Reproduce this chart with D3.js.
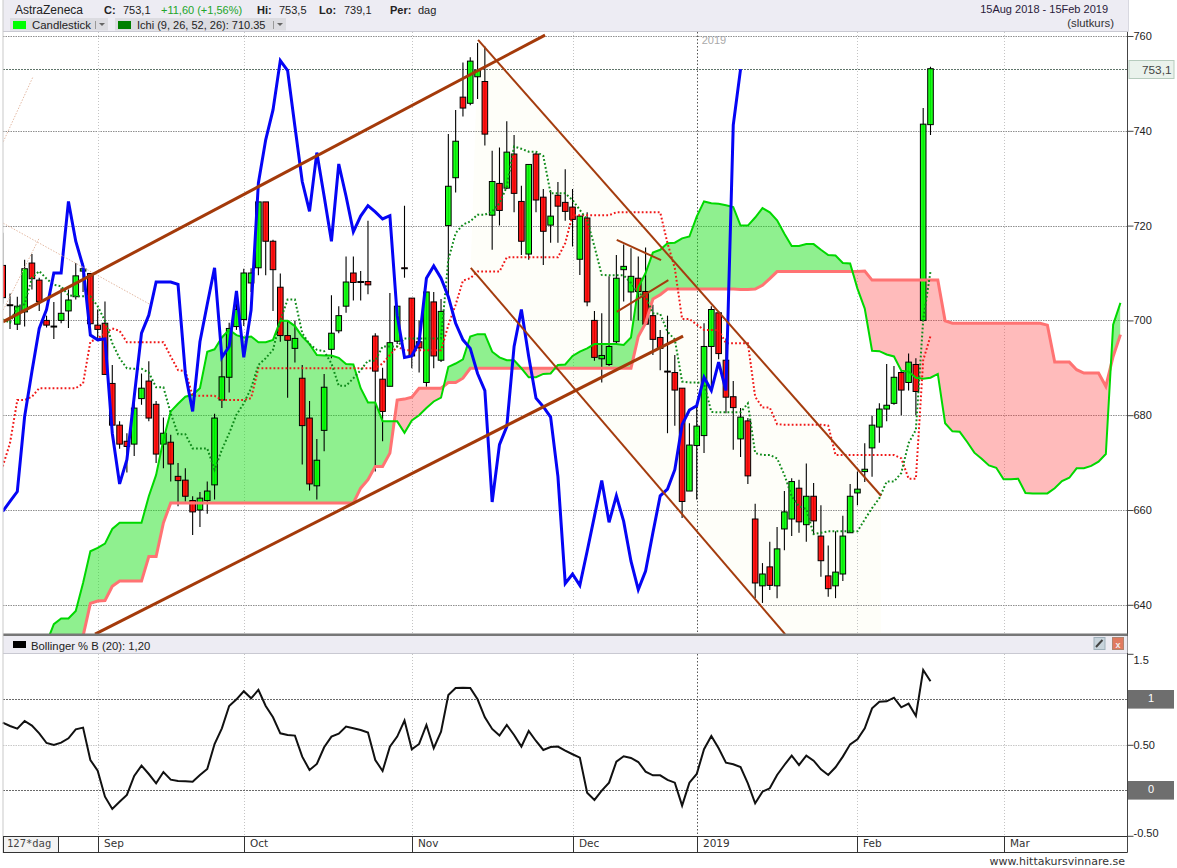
<!DOCTYPE html>
<html><head><meta charset="utf-8">
<script src="https://cdnjs.cloudflare.com/ajax/libs/d3/7.8.5/d3.min.js"></script>
<style>html,body{margin:0;padding:0;background:#fff;overflow:hidden}svg{display:block;font-family:"Liberation Sans",Arial,sans-serif}</style>
</head><body><svg id="c" width="1177" height="868"></svg>
<script>
// ---- price candles (one entry per trading day) ----
const opens=[711.6,703.3,699.2,701.8,712.1,708.5,700,698.8,700,702,
705,710.4,709.9,699,699.4,686.7,677.9,674.5,673.9,683.5,
687.2,682.3,673.9,674.3,667.1,666.3,662,660,662,665.3,
683.2,688,698.7,700.2,707.9,711.1,725,716.7,707,696.8,
694.1,687.8,679.4,665.1,676.8,693.9,697.8,703,710,708.2,
708.2,696.7,687.6,686.1,695.6,711.1,704.7,695.5,686.9,703.9,
691.6,720,730.1,747.1,745.8,751.4,750.4,722.2,728.9,727.9,
735.1,725.1,714,735.1,726,720.1,726.4,724.9,723.9,712.9,
721.6,700,691.9,690.7,695.5,710.7,706,708.9,706.1,701,
696.4,689.3,689,685.7,664,673.6,675.7,694.5,701.6,691.6,
683.9,675,678.8,658.1,644,648,644,656,658.1,664.6,
656.9,662.9,654.5,646.1,644,646.5,655.2,663.6,668.1,673.1,
677.5,681.3,682.5,689,686.9,690.7,700,741.3];
const closes=[704.8,703.1,703,710.9,708.8,704,699,698.6,701.5,704.3,
709.4,710.9,699.3,698.1,688.6,677.9,673.9,673.4,681.5,685.7,
679.4,671.8,676.2,669.7,666.2,662.9,659.6,662.5,664,679.4,
688.1,698.3,702.3,710,710,725,716.7,710.7,696.8,695.8,
696.2,677.8,665.5,670.5,685.9,697.3,701,708.1,708,708,
707.5,689.3,680.8,695.3,703,710.9,692.5,694.2,706,692.5,
701.9,728.3,737.8,744.8,754.7,752.8,739.3,729.3,723.2,735.5,
726.8,716.7,732.9,725.4,718.8,722,724.1,723,721.3,722,
703.9,692.2,692.6,694.5,708.9,711.4,709.3,706.1,699.2,696,
694.1,689.1,685.3,661.8,673.7,677.7,694.5,702.3,693,683.8,
681.6,679.6,667.2,644.6,646.5,644.1,651.8,659.6,666,657.5,
662.9,657.7,649.3,643.4,646.9,654.5,662.9,664.4,668.6,677.9,
681.3,682.1,688,685.3,691.2,685,741.4,753.1];
const highs=[718.5,705.7,705,712.8,714,709,701,703.9,706.8,706.5,
712.1,712,710,702.3,704,690.6,678.7,676.2,683,688.8,
691.4,683,679.5,675.9,669.9,668.8,662.9,663.8,666,680.3,
692,699.5,705,710.9,711,725,725,717,709.9,700,
699.9,690.6,683,675,688.7,705.3,703,713.5,713.5,710.4,
721,697.3,690,705.8,703,724.2,704.7,700,706,706,
704.5,739.3,744.4,754.4,755.5,758.5,757.8,735.8,736.5,742,
739.1,728.4,732.9,735.4,727.7,727.5,729.2,731.9,727.7,722,
722.8,702,701.5,709.3,713.8,716,715.2,713.5,715.4,703.3,
698,701,692.7,685.7,678.3,682,699.4,703,702,696.2,
687.2,681.5,679.4,661.3,648.8,653.3,656.4,664,666.7,666.4,
669.8,665.7,661,652.5,655.5,658.8,665.5,668.1,674.1,679.9,
682.5,690.8,690.4,689.5,693,692,744.8,753.5];
const lows=[703.5,698.2,698,698.7,706.5,702,698.5,696.1,699.4,698.4,
704.4,706,699,696,688.6,676.2,672.9,667.9,671.4,682.2,
678.7,669.9,668.8,666,660.8,661.8,654.7,656.4,659.2,662.2,
681.5,684.8,698,698.8,706,709.5,709.5,702,695.5,683.7,
691.1,669.6,664.1,662.2,672.4,692,697.3,701.6,704.2,704.2,
705.5,668.1,674.5,686.1,695,709,689.9,689,686,689.9,
691.2,704.5,727,743,745.4,746.7,736.9,714.9,720,727.7,
722.8,713.8,712.8,722.8,711.7,716.4,716.4,721,715.6,709.6,
703,691.5,686.9,690.4,695,704,700,700,699,692.7,
689.5,676.2,677.8,658.3,664,662.2,672,685.3,691.8,680.4,
672.7,671.2,665.5,641.4,640.4,643.1,641.4,651.5,654.5,655.2,
653.3,654.8,645.9,641.7,641.4,645,655.2,661,665.9,667,
674.2,678.7,682.2,680,685.2,680,699.8,739.1];
// ---- overlay series ----
const compareLine=[659.7,661.8,663.9,679.7,689.2,698.3,702.3,710,710,725.1,
716.7,711.4,696.9,695.9,696.1,676.2,665.5,670.6,683.9,697.3,
701.1,708.1,708.1,708.1,707.6,688.8,680.8,695.5,703.4,711.1,
692.2,694.5,706.2,692.2,702.2,729,738.1,744.4,754.8,752.7,
740.9,729.3,723,735.4,726.2,716.7,733,726.2,718.7,722,
724.2,722.9,721.4,722.1,701,692.2,692.5,695.5,708.9,711.5,
708.9,705,699.4,695.9,694.1,688.8,685.2,661.7,673.8,677.6,
694.5,702.3,692.4,683.6,681.8,679.6,667.1,644.5,646.5,644.1,
651.3,658.7,666.2,657.4,663,657.6,649.2,643.2,647.1,655.2,
663,664.4,668.5,678,681.1,682,688,685.2,691.2,685.2,
741.2,753];
const cloudStart=6;
const senkouA=[632,635.9,637.1,637.1,638.7,644.6,651.3,652,652.9,656,
657.3,657.3,657.3,657.3,662.9,667.4,674.8,680.8,682.4,683.9,
684.3,685.7,693.4,693.9,696.4,698,696.9,696.4,696.6,695.4,
695.4,695.9,699.9,699.9,698.8,696.6,695,692.7,692.6,692.6,
692.1,690.8,690.7,685.7,682.7,682.7,678.7,678.7,678.7,676.3,
678.9,680,681.5,682.9,683.7,690.2,690.9,691.8,696.6,697.1,
697.1,693.4,692.2,691.6,691.6,689.9,688,688,688.7,688.8,
690.6,690.7,692.5,693.4,694.1,695,695,695,695,694.8,
696.4,707,710,714.3,714.9,716.3,716.4,717.3,717.7,721.9,
725.1,724.7,724.6,724.3,723.9,720,720,721.7,723.7,722.8,
721.1,718.3,715.7,715.7,716.1,716.1,714.9,713.8,713.7,712.1,
712,706.7,702.5,693.6,693.5,692.8,692.4,689.4,689.2,687.9,
687.7,687.9,688.7,678.3,676.6,676.5,674.4,672.1,670.8,669.4,
668.9,666.5,666.5,666.6,663.6,663.5,663.5,663.5,664.6,666.1,
666.8,668.8,668.8,669.3,670.2,671.8,699.1,703.7];
const senkouB=[628,628,629,630,631,633.4,640.3,640.8,640.9,643.9,
645,645,645,645,650.2,650.2,657.3,661.5,661.5,661.5,
661.5,661.5,661.5,661.5,661.5,661.5,661.5,661.5,661.5,661.5,
661.5,661.5,661.5,661.5,661.5,661.5,661.5,661.5,661.5,661.5,
661.5,661.5,661.5,664.6,666.4,669.2,669.2,672,683.2,683.4,
683.8,685.7,685.7,685.7,685.7,686.9,686.9,687.8,689.9,689.9,
689.9,689.9,689.9,689.9,689.9,689.9,689.9,689.9,689.9,689.9,
689.9,689.9,689.9,689.9,689.9,689.9,689.9,689.9,689.9,689.9,
689.9,696.6,699.4,704.5,705.4,706.6,706.6,706.6,706.6,706.6,
706.6,706.6,706.6,706.6,706.6,706.5,706.5,706.6,707.4,708.8,
710.3,710.3,710.3,710.3,710.3,710.3,710.3,710.3,710.3,710.3,
710.3,710.3,710.4,708.5,708.5,708.5,708.5,708.5,708.5,708.5,
708.5,708.5,708.5,699.9,699.4,699.4,699.4,699.4,699.4,699.4,
699.4,699.4,699.4,699.4,699.4,699.4,699.4,699,691.2,691.2,
691.2,689.6,688.9,688.9,688.9,686.1,692.4,697];
const tenkan=[700.2,699.5,703,703.4,709,710.4,708.8,707.5,707.2,705.3,
705.1,705.1,705.1,703,699.9,695.2,692,689.9,689.8,689.8,
689,685.9,685.9,680.4,676,676,673,673,673,668.5,
672.7,676.2,680.1,682.5,685.7,690.6,692,693.8,700,704.4,
704.4,697.3,695,693.8,693.5,690.9,686.2,686.2,687.8,689.5,
691.5,691.5,694.5,694.5,694.5,696.2,696.2,696.2,696.2,696.2,
696.2,712.8,718.4,720.2,720.9,722.3,722.3,723,724.7,728.2,
736.7,736.2,735.6,735.6,734.7,726.8,726.8,726.8,725.4,723.3,
721.2,715.6,709.6,709.5,709.5,709.5,707.9,705.7,705,701.5,
701.4,697.6,696,687.1,686.9,686.9,686.7,680.7,680.6,680.6,
680.6,680.6,682.5,672,671.6,671.6,670.9,667.4,662.9,660.8,
660.2,654.9,655.2,655.5,655.5,655.5,655.5,655.5,658,660.4,
662.5,666,666,667.8,674.1,676.9,700.1,710.35];
const kijun=[669.2,674.1,683.2,683.2,683.9,685.7,685.7,685.7,685.7,685.7,
685.7,686.7,695.5,696.2,697.3,698.3,697.8,695.4,695.4,695.4,
695.4,695.4,695.4,692.4,689.5,689.3,684.1,684.1,684.1,684.1,
683.2,683.2,683.2,683.2,683.6,689.9,689.9,689.9,689.9,689.9,
689.9,689.9,689.9,689.9,689.9,689.9,689.9,689.9,689.9,689.9,
689.9,689.9,690.9,692.7,694.5,693.7,693.7,693.7,693.7,693.7,
693.7,699,703.3,708.4,708.9,710.3,710.3,710.3,710.3,713.3,
713.3,713.3,713.3,713.3,713.3,713.3,713.3,716.3,722.2,722.2,
722.2,722.2,722.2,722.2,722.8,722.8,722.8,722.8,722.8,722.8,
722.8,716.3,711,700.3,700.3,699.1,698,698,698,695.2,
695.2,695.2,695.2,683.9,681.6,681.6,678.1,678,678,678,
678,678,678,677.8,671.6,671.6,671.6,671.6,671.6,671.6,
671.6,671.6,671.6,670.9,666.6,666.6,691.6,696.7];
const percentB=[0.744,0.707,0.678,0.762,0.711,0.626,0.52,0.498,0.524,0.571,
0.67,0.689,0.333,0.216,-0.07,-0.205,-0.125,-0.051,0.158,0.271,
0.179,0.077,0.201,0.117,0.103,0.099,0.095,0.168,0.234,0.509,
0.681,0.927,1.0,1.088,1.011,1.103,0.927,0.802,0.626,0.608,
0.601,0.37,0.223,0.289,0.473,0.59,0.623,0.7,0.681,0.663,
0.634,0.333,0.212,0.48,0.59,0.766,0.451,0.509,0.718,0.462,
0.645,1.048,1.125,1.128,1.125,1.0,0.802,0.674,0.601,0.718,
0.608,0.48,0.652,0.542,0.443,0.476,0.48,0.436,0.396,0.359,
-0.026,-0.106,-0.004,0.084,0.315,0.374,0.355,0.311,0.205,0.165,
0.165,0.114,0.084,-0.168,0.084,0.179,0.451,0.597,0.462,0.304,
0.286,0.256,0.077,-0.143,-0.015,0.022,0.168,0.278,0.381,0.278,
0.381,0.326,0.231,0.168,0.253,0.37,0.505,0.56,0.681,0.901,
0.974,0.978,1.018,0.912,0.952,0.817,1.322,1.198];
// ---- hand-drawn trend lines: [day0, price0, day1, price1]
const thickTrends=[[0.04,699.7,74.24,760.2],[12.64,633.8,93.13,696.7]];
const thinTrends=[[65.07,759.2,120.23,663],[64.07,711.1,107.1,633.8],[84.05,717,90.12,712.7],[84.05,701.8,91.12,708.5]];
const fanTrends=[[0.08,720.5,20.03,703.5],[0.08,737.7,4.15,751.4],[0.08,702.2,5.01,717.4]];
const channelShade=[[65.07,759.2],[120.23,663],[120.23,633.5],[107.1,633.8],[64.07,711.1]];
// ---- ticks and labels ----
const priceTicks=[640,660,680,700,720,740,760];
const pbTicks=[1.5,0.5,-0.5];
const pbTickLabels=["1.5","0.50","-0.50"];
const monthDays=[13,33,56,78,95,117,137];
const monthLabels=["Sep","Oct","Nov","Dec","2019","Feb","Mar"];
const lastClose=753.1;

const svg=d3.select("#c");
const x=d3.scaleLinear().domain([0,127]).range([2.7,930.5]);
const y=d3.scaleLinear().domain([640,760]).range([604.8,36]);
const pb=d3.scaleLinear().domain([0,1]).range([790.3,699.3]);
const L=3,R=1127.5,T=32,B=634,PT=654,PB=836.5;

const defs=svg.append("defs");
defs.append("clipPath").attr("id","pane").append("rect").attr("x",L).attr("y",T).attr("width",R-L).attr("height",B-T);
const ln=(yS)=>d3.line().x((d,i)=>x(i)).y(d=>yS(d));
const cloudX=(d,i)=>x(i+cloudStart);
defs.append("clipPath").attr("id","aboveB").append("path").attr("d",d3.area().x(cloudX).y0(0).y1(d=>y(d))(senkouB));
defs.append("clipPath").attr("id","belowB").append("path").attr("d",d3.area().x(cloudX).y0(868).y1(d=>y(d))(senkouB));

// header bar
svg.append("rect").attr("x",L).attr("y",0).attr("width",R-L+1).attr("height",31).attr("fill","#edecf3");
svg.append("line").attr("x1",L).attr("x2",R+1).attr("y1",31.5).attr("y2",31.5).attr("stroke","#c9c9d2");
svg.append("line").attr("x1",R+1).attr("x2",R+1).attr("y1",0).attr("y2",31).attr("stroke","#d8d8e0");

// pane grid
const main=svg.append("g").attr("clip-path","url(#pane)");
main.append("path").attr("d",d3.line().x(d=>x(d[0])).y(d=>y(d[1])).curve(d3.curveLinearClosed)(channelShade)).attr("fill","#fefef9");
main.selectAll(".gh").data(priceTicks).join("line").attr("x1",L).attr("x2",R)
 .attr("y1",d=>Math.round(y(d))+.5).attr("y2",d=>Math.round(y(d))+.5)
 .attr("stroke","#8f8f8f").attr("stroke-dasharray","1.5 1");
main.selectAll(".gv").data(monthDays).join("line")
 .attr("x1",d=>Math.round(x(d))+.5).attr("x2",d=>Math.round(x(d))+.5).attr("y1",T).attr("y2",B)
 .attr("stroke",(d,i)=>monthLabels[i]==="2019"?"#555":"#c4c4c4").attr("stroke-dasharray",(d,i)=>monthLabels[i]==="2019"?"1.5 2":"1 2");
main.append("line").attr("x1",L).attr("x2",R).attr("y1",Math.round(y(lastClose))+.5).attr("y2",Math.round(y(lastClose))+.5)
 .attr("stroke","#5f7469").attr("stroke-dasharray","2 1");
main.append("text").attr("x",x(95)+5).attr("y",44).attr("font-size",11).attr("fill","#a9a9a9").text("2019");

// cloud fill
const cloud=d3.area().x(cloudX).y0((d,i)=>y(senkouB[i])).y1(d=>y(d));
main.append("path").attr("d",cloud(senkouA)).attr("clip-path","url(#aboveB)").attr("fill","#10e010").attr("fill-opacity",.47);
main.append("path").attr("d",cloud(senkouA)).attr("clip-path","url(#belowB)").attr("fill","#ff3030").attr("fill-opacity",.33);

// candles
const days=d3.range(opens.length);
const bodyW=5.6;
const cg=main.append("g");
cg.selectAll(".w").data(days).join("line")
 .attr("x1",d=>x(d)).attr("x2",d=>x(d)).attr("y1",d=>y(highs[d])).attr("y2",d=>y(lows[d]))
 .attr("stroke","#000").attr("stroke-width",1.1);
cg.selectAll(".b").data(days).join("rect")
 .attr("x",d=>x(d)-bodyW/2).attr("width",bodyW)
 .attr("y",d=>y(Math.max(opens[d],closes[d])))
 .attr("height",d=>Math.abs(y(opens[d])-y(closes[d])))
 .attr("fill",d=>closes[d]>=opens[d]?"#00ff00":"#ff0000").attr("fill-opacity",.9).attr("stroke","#000").attr("stroke-width",1);

// cloud edges
main.append("path").attr("d",d3.line().x(cloudX).y(d=>y(d))(senkouB)).attr("fill","none").attr("stroke","#ff7373").attr("stroke-width",3);
main.append("path").attr("d",d3.line().x(cloudX).y(d=>y(d))(senkouA)).attr("fill","none").attr("stroke","#00d800").attr("stroke-width",2);
// dotted
main.append("path").attr("d",ln(y)(kijun)).attr("fill","none").attr("stroke","#f01818").attr("stroke-width",2).attr("stroke-dasharray","1.8 2.2");
main.append("path").attr("d",ln(y)(tenkan)).attr("fill","none").attr("stroke","#0f8a1a").attr("stroke-width",2).attr("stroke-dasharray","1.8 2.2");
// blue
main.append("path").attr("d",ln(y)(compareLine)).attr("fill","none").attr("stroke","#0505f5").attr("stroke-width",3);
// trend lines
const tl=(sel,data,w,col,dash)=>sel.selectAll(null).data(data).join("line")
 .attr("x1",d=>x(d[0])).attr("y1",d=>y(d[1])).attr("x2",d=>x(d[2])).attr("y2",d=>y(d[3]))
 .attr("stroke",col).attr("stroke-width",w).attr("stroke-dasharray",dash);
tl(main,fanTrends,1,"#e3b9a3","1.5 1.5");
tl(main,thinTrends,2,"#a43c0e",null);
tl(main,thickTrends,3,"#a43a0a",null);

// price axis
const ax=svg.append("g").attr("transform",`translate(${R},0)`).call(d3.axisRight(y).tickValues(priceTicks).tickSize(6).tickPadding(0).tickSizeOuter(0));
ax.select(".domain").remove();
ax.selectAll("text").attr("font-size",11).attr("font-family","'Liberation Sans'").attr("fill","#222");
ax.selectAll("line").attr("stroke","#444");
svg.append("line").attr("x1",R).attr("x2",R).attr("y1",32).attr("y2",653).attr("stroke","#444");
// last close tag
svg.append("rect").attr("x",1129).attr("y",60.5).attr("width",45).attr("height",18).attr("fill","#eaf2ec").attr("stroke","#b6cbbd");
svg.append("text").attr("x",1171.5).attr("y",73.5).attr("text-anchor","end").attr("font-size",11.8).attr("fill","#444").text("753,1");

// header text
const hdr=[[15,14,"AstraZeneca","#222",400,12],[104,14,"C:","#222",700,11],[123,14,"753,1","#222",400,11],[161,14,"+11,60 (+1,56%)","#22a52a",400,11],
[257,14,"Hi:","#222",700,11],[279,14,"753,5","#222",400,11],[319,14,"Lo:","#222",700,11],[344,14,"739,1","#222",400,11],[390,14,"Per:","#222",700,11],[418,14,"dag","#222",400,11]];
svg.selectAll(".h").data(hdr).join("text").attr("x",d=>d[0]).attr("y",d=>d[1]).attr("font-size",d=>d[5]).attr("fill",d=>d[3]).attr("font-weight",d=>d[4]).text(d=>d[2]);
svg.append("text").attr("x",1108).attr("y",13).attr("text-anchor","end").attr("font-size",11).attr("fill","#2a1a3a").text("15Aug 2018 - 15Feb 2019");
svg.append("text").attr("x",1114).attr("y",27).attr("text-anchor","end").attr("font-size",11.4).attr("fill","#333").text("(slutkurs)");
const btn=[[10,98,"#00ff00","Candlestick",11.4],[115,171,"#008000","Ichi (9, 26, 52, 26): 710.35",11]];
btn.forEach(b=>{
 svg.append("rect").attr("x",b[0]).attr("y",18).attr("width",b[1]).attr("height",12.5).attr("fill","#dcdce1");
 svg.append("rect").attr("x",b[0]+3).attr("y",21).attr("width",13).attr("height",8).attr("fill",b[2]);
 svg.append("text").attr("x",b[0]+22).attr("y",29).attr("font-size",b[4]).attr("fill","#222").text(b[3]);
 svg.append("line").attr("x1",b[0]+b[1]-12.5).attr("x2",b[0]+b[1]-12.5).attr("y1",21).attr("y2",29).attr("stroke","#999");
 svg.append("path").attr("d",`M${b[0]+b[1]-9},23h6l-3,3z`).attr("fill","#666");
});

// pane separator + indicator header
svg.append("rect").attr("x",L).attr("y",633.5).attr("width",R-L).attr("height",2.5).attr("fill","#777");
svg.append("rect").attr("x",L).attr("y",636).attr("width",R-L).attr("height",17).attr("fill","#edecf3");
svg.append("line").attr("x1",L).attr("x2",R).attr("y1",653.5).attr("y2",653.5).attr("stroke","#c9c9d2");
svg.append("rect").attr("x",13).attr("y",641).attr("width",13).attr("height",7).attr("fill","#000");
svg.append("text").attr("x",31).attr("y",650).attr("font-size",11.3).attr("fill","#222").text("Bollinger % B (20): 1,20");
svg.append("rect").attr("x",1094).attr("y",637.5).attr("width",11).attr("height",12).attr("fill","#c8d4dc").attr("stroke","#9fb0ba");
svg.append("path").attr("d","M1096,647l5,-5.5m0,0l1.5,-1.5").attr("stroke","#444").attr("stroke-width",2).attr("fill","none");
svg.append("rect").attr("x",1112.5).attr("y",637.5).attr("width",11).attr("height",12).attr("fill","#e07a60").attr("stroke","#b0846f");
svg.append("text").attr("x",1118).attr("y",647.5).attr("text-anchor","middle").attr("font-size",9).attr("font-weight",700).attr("fill","#eee").text("x");

// lower pane
const lower=svg.append("g");
lower.selectAll(".lv").data(monthDays).join("line")
 .attr("x1",d=>Math.round(x(d))+.5).attr("x2",d=>Math.round(x(d))+.5).attr("y1",PT).attr("y2",PB)
 .attr("stroke",(d,i)=>monthLabels[i]==="2019"?"#555":"#c4c4c4").attr("stroke-dasharray",(d,i)=>monthLabels[i]==="2019"?"1.5 2":"1 2");
[[1,"#6a6a6a","2 1"],[0,"#6a6a6a","2 1"],[0.5,"#c8c8c8","1.5 1"]].forEach(g=>{
 lower.append("line").attr("x1",L).attr("x2",R).attr("y1",Math.round(pb(g[0]))+.5).attr("y2",Math.round(pb(g[0]))+.5).attr("stroke",g[1]).attr("stroke-dasharray",g[2]);
});
lower.append("path").attr("d",ln(pb)(percentB)).attr("fill","none").attr("stroke","#111").attr("stroke-width",2);
const ax2=svg.append("g").attr("transform",`translate(${R},0)`).call(d3.axisRight(pb).tickValues(pbTicks).tickFormat((d,i)=>pbTickLabels[i]).tickSize(6).tickPadding(0).tickSizeOuter(0));
ax2.select(".domain").remove();
ax2.selectAll("text").attr("font-size",11).attr("font-family","'Liberation Sans'").attr("fill","#222");
ax2.selectAll("line").attr("stroke","#444");
ax2.select(".tick text").attr("dy","0.9em");
ax2.selectAll(".tick").filter(d=>d===-0.5).select("text").attr("dy","0.1em");
svg.append("line").attr("x1",R).attr("x2",R).attr("y1",653).attr("y2",852.5).attr("stroke","#444");
[1,0].forEach(v=>{
 svg.append("rect").attr("x",1128).attr("y",pb(v)-9.3).attr("width",46).attr("height",18.6).attr("fill","#6e6e6e");
 svg.append("text").attr("x",1151).attr("y",pb(v)+3).attr("text-anchor","middle").attr("font-size",11).attr("fill","#fff").text(v);
});

// time bar
svg.append("line").attr("x1",L).attr("x2",L).attr("y1",0).attr("y2",853).attr("stroke","#c9c9c9");
svg.append("rect").attr("x",L).attr("y",836.5).attr("width",55).attr("height",16).attr("fill","#f3f3f3");
svg.append("line").attr("x1",L).attr("x2",R).attr("y1",836.5).attr("y2",836.5).attr("stroke","#333");
svg.append("line").attr("x1",L).attr("x2",R).attr("y1",852.5).attr("y2",852.5).attr("stroke","#333");
svg.append("line").attr("x1",L+.5).attr("x2",L+.5).attr("y1",836.5).attr("y2",852.5).attr("stroke","#333");
svg.append("line").attr("x1",58.5).attr("x2",58.5).attr("y1",836.5).attr("y2",852.5).attr("stroke","#333");
svg.selectAll(".mt").data(monthDays).join("line").attr("x1",d=>Math.round(x(d))+.5).attr("x2",d=>Math.round(x(d))+.5).attr("y1",836.5).attr("y2",852.5).attr("stroke","#333");
svg.selectAll(".ml").data(monthDays).join("text").attr("x",d=>Math.round(x(d))+6).attr("y",846.5)
 .attr("font-family","'DejaVu Sans'").attr("font-size",10.5).attr("fill","#333").text((d,i)=>monthLabels[i]);
svg.append("text").attr("x",7).attr("y",846.5).attr("font-family","'DejaVu Sans Mono'").attr("font-size",10.5).attr("fill","#444").text("127*dag");
svg.append("text").attr("x",1125).attr("y",865).attr("text-anchor","end").attr("font-family","'DejaVu Sans'").attr("font-size",11).attr("fill","#333").text("www.hittakursvinnare.se");
</script></body></html>
